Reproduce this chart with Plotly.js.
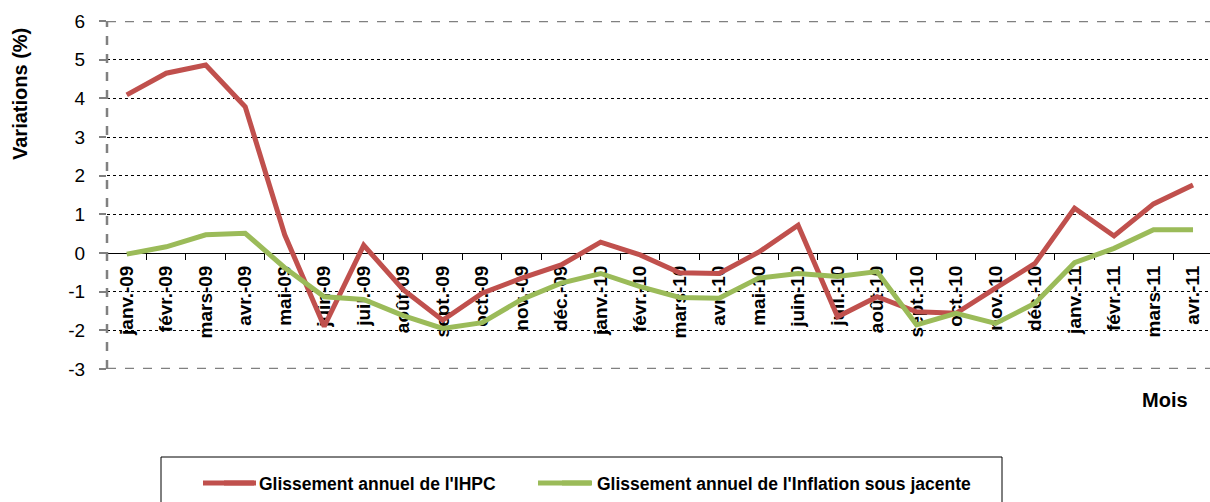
<!DOCTYPE html>
<html>
<head>
<meta charset="utf-8">
<script src="https://cdn.plot.ly/plotly-3.0.1.min.js"></script>
<style>html,body{margin:0;padding:0;background:#fff;}#chart{width:1210px;height:502px;}</style>
</head>
<body>
<div id="chart"></div>
<script>
const months = ["janv.-09","févr.-09","mars-09","avr.-09","mai-09","juin-09","juil.-09","août-09","sept.-09","oct.-09","nov.-09","déc.-09",
  "janv.-10","févr.-10","mars-10","avr.-10","mai-10","juin-10","juil.-10","août-10","sept.-10","oct.-10","nov.-10","déc.-10",
  "janv.-11","févr.-11","mars-11","avr.-11"];
const ihpc = [4.09,4.65,4.86,3.78,0.47,-1.9,0.2,-0.95,-1.74,-1.04,-0.65,-0.31,
  0.28,-0.05,-0.51,-0.53,0.02,0.72,-1.65,-1.13,-1.52,-1.56,-0.91,-0.27,
  1.16,0.44,1.27,1.76];
const sousJacente = [-0.03,0.16,0.47,0.51,-0.38,-1.13,-1.2,-1.62,-1.95,-1.8,-1.2,-0.78,
  -0.53,-0.87,-1.15,-1.17,-0.65,-0.53,-0.61,-0.48,-1.86,-1.56,-1.82,-1.3,
  -0.25,0.12,0.6,0.6];
const seriesNames = ["Glissement annuel de l'IHPC","Glissement annuel de l'Inflation sous jacente"];
const seriesColors = ['#C0504D', '#9BBB59'];
const yTicks = [-3,-2,-1,0,1,2,3,4,5,6];
const yTickText = ["-3","-2","-1","0","1","2","3","4","5","6"];

const FONT = 'Liberation Sans, Arial, sans-serif';

const traces = [
  {x: months, y: ihpc, type: 'scatter', mode: 'lines', name: seriesNames[0], legend: 'legend',
   line: {color: seriesColors[0], width: 5}},
  {x: months, y: sousJacente, type: 'scatter', mode: 'lines', name: seriesNames[1], legend: 'legend2',
   line: {color: seriesColors[1], width: 5}}
];

// pixel helpers for paper coordinates (plot area: x 107..1210, y 21..369)
const px = v => (v - 107) / 1103;
const py = v => (369 - v) / 348;

const legFont = {family: FONT, size: 17.5, weight: 'bold', color: '#000'};
const layout = {
  width: 1210, height: 502,
  margin: {l: 107, r: 0, t: 21, b: 133},
  paper_bgcolor: '#fff', plot_bgcolor: '#fff',
  font: {family: FONT, color: '#000'},
  showlegend: true,
  legend: {orientation: 'h', x: px(219), xanchor: 'left', y: -0.2764, yanchor: 'top',
    font: legFont, bgcolor: 'rgba(0,0,0,0)', borderwidth: 0},
  legend2: {orientation: 'h', x: px(557), xanchor: 'left', y: -0.2764, yanchor: 'top',
    font: legFont, bgcolor: 'rgba(0,0,0,0)', borderwidth: 0},
  xaxis: {
    type: 'category', range: [-0.5, 27.43], anchor: 'free', position: 1/3,
    showline: true, linecolor: '#000', linewidth: 1,
    showgrid: false, zeroline: false,
    ticks: 'outside', tickson: 'boundaries', ticklen: 6, tickcolor: '#000', tickwidth: 1,
    tickangle: -90, ticklabelstandoff: 4,
    tickfont: {family: FONT, size: 19, weight: 'bold', color: '#000'},
    layer: 'below traces', fixedrange: true
  },
  yaxis: {
    range: [-3, 6], tickvals: yTicks, ticktext: yTickText,
    showgrid: true, gridcolor: '#000', gridwidth: 1, griddash: 'dot',
    zeroline: false, showline: false,
    ticks: 'outside', ticklen: 7, tickcolor: '#808080', tickwidth: 2,
    ticklabelstandoff: 10,
    tickfont: {family: FONT, size: 19, color: '#000'},
    layer: 'below traces', fixedrange: true
  },
  shapes: [
    {type: 'line', xref: 'paper', yref: 'y', x0: 0, x1: 1, y0: 6, y1: 6, line: {color: '#808080', width: 2.5, dash: 'dash'}, layer: 'above'},
    {type: 'line', xref: 'paper', yref: 'y', x0: 0, x1: 1, y0: -3, y1: -3, line: {color: '#808080', width: 2.5, dash: 'dash'}, layer: 'above'},
    {type: 'line', xref: 'paper', yref: 'paper', x0: 0, x1: 0, y0: 0, y1: 1, line: {color: '#808080', width: 2.5, dash: 'dash'}, layer: 'above'},
    {type: 'rect', xref: 'paper', yref: 'paper', x0: px(161), x1: px(1002), y0: py(457), y1: py(520),
     line: {color: '#000', width: 1}, fillcolor: 'rgba(0,0,0,0)'},
    // longer legend key lines, as in the original legend
    {type: 'line', xref: 'paper', yref: 'paper', x0: px(203), x1: px(256), y0: py(483), y1: py(483),
     line: {color: seriesColors[0], width: 5}},
    {type: 'line', xref: 'paper', yref: 'paper', x0: px(538), x1: px(591), y0: py(483), y1: py(483),
     line: {color: seriesColors[1], width: 5}}
  ],
  annotations: [
    {text: 'Variations (%)', xref: 'paper', yref: 'paper', x: px(20), y: py(94),
     xanchor: 'center', yanchor: 'middle', textangle: -90, showarrow: false,
     font: {family: FONT, size: 20, weight: 'bold', color: '#000'}},
    {text: 'Mois', xref: 'paper', yref: 'paper', x: px(1165), y: py(400),
     xanchor: 'center', yanchor: 'middle', showarrow: false,
     font: {family: FONT, size: 20, weight: 'bold', color: '#000'}}
  ]
};

Plotly.newPlot('chart', traces, layout, {displayModeBar: false, staticPlot: true});
</script>
</body>
</html>
